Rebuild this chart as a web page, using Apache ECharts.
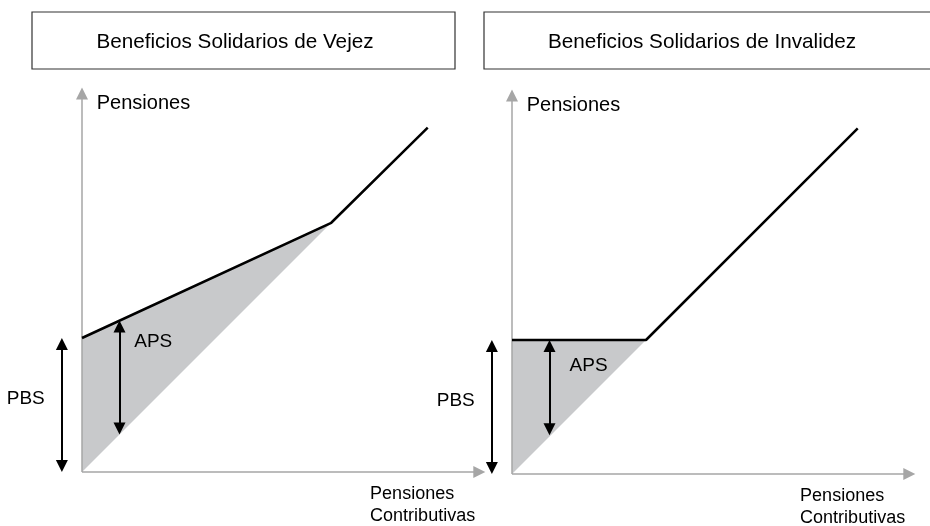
<!DOCTYPE html>
<html>
<head>
<meta charset="utf-8">
<script src="https://cdn.jsdelivr.net/npm/echarts@6/dist/echarts.min.js"></script>
<style>
  html, body { margin: 0; padding: 0; background: #fff; }
  #chart { width: 930px; height: 526px; }
</style>
</head>
<body>
<div id="chart"></div>
<script>
// titulos de cada panel
var titulos = ["Beneficios Solidarios de Vejez", "Beneficios Solidarios de Invalidez"];

// ejes (unidades: PBS = 100)
var ejeX = [[0, 0], [301, 0]];
var ejeY = [[0, 0], [0, 287]];

// pension final (linea negra)
var topeVejez = [[0, 100], [186, 186], [258, 257]];
var topeInvalidez = [[0, 100], [100, 100], [258, 258]];

// zona gris (aporte solidario)
var zonaVejez = [[0, 0], [0, 100], [186, 186]];
var zonaInvalidez = [[0, 0], [0, 100], [100, 100]];

// flechas PBS y APS
var flechaPBS = [[-15, 0], [-15, 100]];
var flechaAPSVejez = [[28, 28], [28, 113]];
var flechaAPSInvalidez = [[28, 29], [28, 100]];

// textos
var nombreEjeY = "Pensiones";
var nombreEjeX = "Pensiones\nContributivas";

var S = 1.34;
var X_MIN = -50, X_MAX = 305, Y_MIN = -30, Y_MAX = 292;
var PUNTA = 12; // largo de la punta de flecha en px
function gridAt(ox, oy) {
  return {
    left: ox + X_MIN * S,
    top: oy - Y_MAX * S,
    width: (X_MAX - X_MIN) * S,
    height: (Y_MAX - Y_MIN) * S
  };
}

// el triangulo se centra en el extremo: acortar media punta para que la punta toque el valor
function recortar(c, inicio, fin) {
  var dx = c[1][0] - c[0][0], dy = c[1][1] - c[0][1];
  var len = Math.sqrt(dx * dx + dy * dy);
  var d = PUNTA / 2 / S;
  var ux = dx / len * d, uy = dy / len * d;
  return [
    inicio ? [c[0][0] + ux, c[0][1] + uy] : c[0],
    fin ? [c[1][0] - ux, c[1][1] - uy] : c[1]
  ];
}

var FONT = "'Liberation Sans', Arial, sans-serif";

function panelSeries(i, tope, zona, aps, apsLabel) {
  return [
    {
      type: "custom",
      xAxisIndex: i,
      yAxisIndex: i,
      data: zona,
      z: 1,
      renderItem: function (params, api) {
        if (params.dataIndex !== 0) return;
        var pts = zona.map(function (p) { return api.coord(p); });
        return { type: "polygon", shape: { points: pts }, style: { fill: "#c8c9cb" } };
      }
    },
    {
      type: "lines",
      coordinateSystem: "cartesian2d",
      xAxisIndex: i,
      yAxisIndex: i,
      z: 2,
      symbol: ["none", "triangle"],
      symbolSize: [11, PUNTA],
      lineStyle: { color: "#a6a6a6", width: 1.5, opacity: 1 },
      data: [{ coords: recortar(ejeX, false, true) }, { coords: recortar(ejeY, false, true) }]
    },
    {
      type: "line",
      xAxisIndex: i,
      yAxisIndex: i,
      z: 3,
      data: tope,
      showSymbol: false,
      lineStyle: { color: "#000", width: 2.5 }
    },
    {
      type: "lines",
      coordinateSystem: "cartesian2d",
      xAxisIndex: i,
      yAxisIndex: i,
      z: 4,
      symbol: ["triangle", "triangle"],
      symbolSize: [12, PUNTA],
      lineStyle: { color: "#000", width: 2, opacity: 1 },
      data: [{ coords: recortar(flechaPBS, true, true) }, { coords: recortar(aps, true, true) }]
    },
    {
      type: "scatter",
      xAxisIndex: i,
      yAxisIndex: i,
      symbolSize: 0,
      z: 5,
      itemStyle: { opacity: 1 },
      label: {
        show: true,
        formatter: "{b}",
        color: "#000",
        opacity: 1,
        fontFamily: FONT
      },
      data: [
        { name: nombreEjeY, value: [11, 275], label: { position: "right", distance: 0, fontSize: 20 } },
        { name: "PBS", value: [-42, 55], label: { position: "inside", fontSize: 19 } },
        { name: "APS", value: apsLabel, label: { position: "right", distance: 0, fontSize: 19 } },
        { name: nombreEjeX, value: [215, -25], label: { position: "right", distance: 0, fontSize: 18, lineHeight: 22 } }
      ]
    }
  ];
}

var chart = echarts.init(document.getElementById("chart"));
var option = {
  animation: false,
  backgroundColor: "#fff",
  grid: [gridAt(82, 472), gridAt(512, 474)],
  xAxis: [0, 1].map(function (i) {
    return { type: "value", gridIndex: i, min: X_MIN, max: X_MAX, show: false };
  }),
  yAxis: [0, 1].map(function (i) {
    return { type: "value", gridIndex: i, min: Y_MIN, max: Y_MAX, show: false };
  }),
  graphic: [
    { type: "rect", shape: { x: 32, y: 12, width: 423, height: 57 }, style: { fill: "#fff", stroke: "#333", lineWidth: 1.2 } },
    { type: "rect", shape: { x: 484, y: 12, width: 470, height: 57 }, style: { fill: "#fff", stroke: "#333", lineWidth: 1.2 } },
    { type: "text", style: { text: titulos[0], x: 235, y: 42, textAlign: "center", textVerticalAlign: "middle", font: "20.7px " + FONT, fill: "#000" } },
    { type: "text", style: { text: titulos[1], x: 702, y: 42, textAlign: "center", textVerticalAlign: "middle", font: "20.7px " + FONT, fill: "#000" } }
  ],
  series: []
    .concat(panelSeries(0, topeVejez, zonaVejez, flechaAPSVejez, [39, 97]))
    .concat(panelSeries(1, topeInvalidez, zonaInvalidez, flechaAPSInvalidez, [43, 81]))
};
option && chart.setOption(option);
</script>
</body>
</html>
